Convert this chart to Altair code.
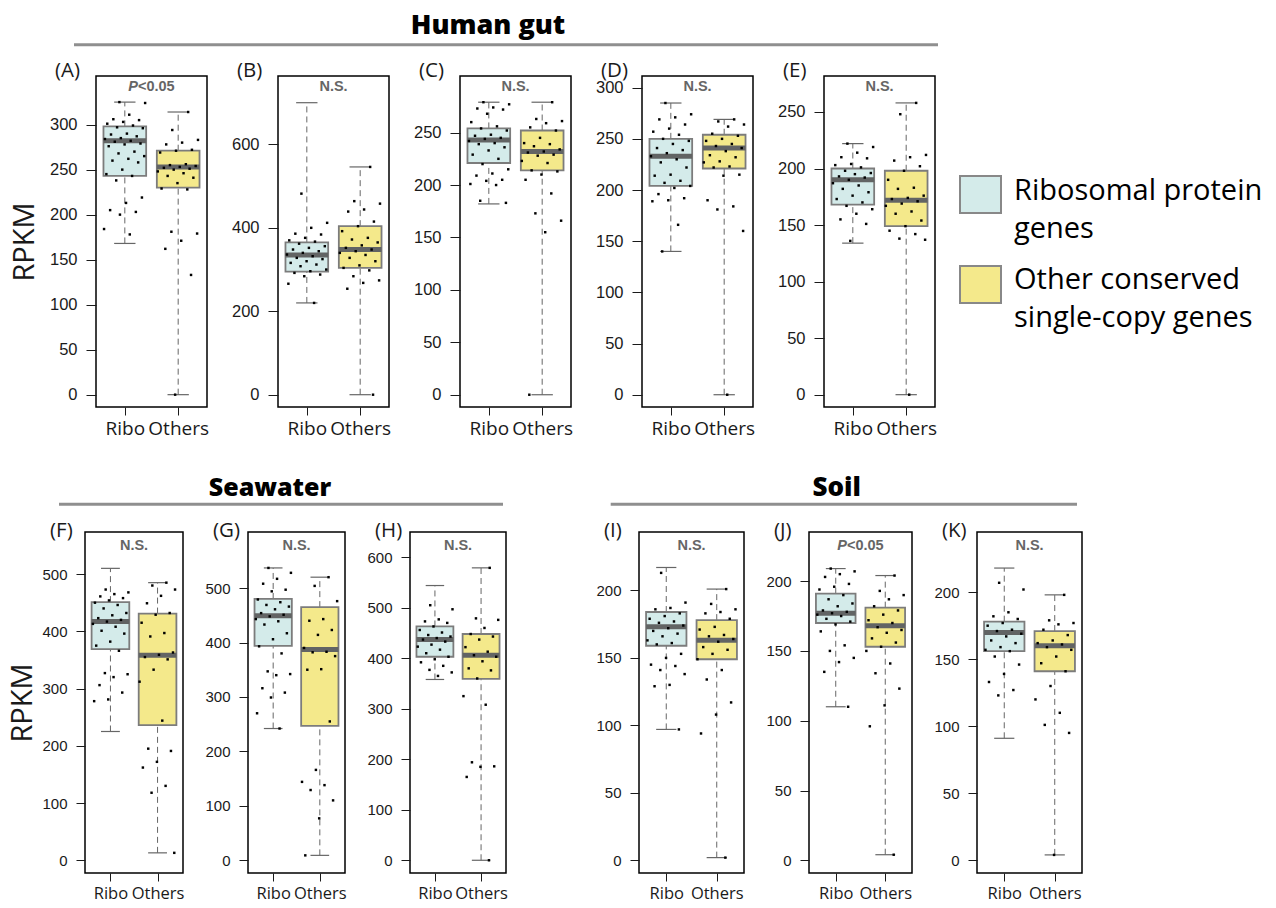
import altair as alt
import pandas as pd

# ---------------- data ----------------
# box stats: [lower whisker, Q1, median, Q3, upper whisker]
A_ribo = [325, 324, 311, 306, 305, 303, 301, 299, 297, 296, 290, 289, 287, 285, 284, 282, 281, 279, 278, 276,
          270, 268, 265, 262, 260, 258, 250, 245, 243, 238, 219, 213, 205, 203, 200, 184, 178]
A_others = [314, 294, 283, 280, 278, 272, 271, 269, 256, 255, 254, 253, 252, 251, 250, 248, 246, 243, 241, 235,
            229, 228, 181, 179, 171, 162, 133, 0]
A_ribo_box = [168, 243, 282, 298, 325]
A_others_box = [0, 230, 253, 271, 314]

B_ribo = [482, 412, 400, 386, 384, 376, 370, 367, 362, 356, 352, 348, 344, 340, 336, 332, 328, 325, 320, 316,
          312, 308, 300, 296, 292, 288, 284, 266, 220]
B_others = [546, 464, 458, 444, 439, 415, 404, 392, 376, 372, 365, 358, 352, 348, 344, 340, 335, 328, 320, 310,
            304, 298, 284, 274, 268, 254, 0]
B_ribo_box = [220, 295, 335, 365, 700]
B_others_box = [0, 304, 348, 404, 546]

C_ribo = [279, 277, 274, 273, 272, 268, 260, 256, 254, 252, 248, 247, 245, 244, 242, 240, 239, 236, 233, 229,
          225, 220, 215, 211, 209, 205, 204, 201, 200, 185, 183]
C_others = [279, 263, 261, 259, 255, 252, 245, 240, 239, 237, 234, 232, 231, 229, 228, 223, 221, 214, 213, 210,
            205, 192, 173, 166, 155, 0]
C_ribo_box = [182, 221, 243, 254, 279]
C_others_box = [0, 214, 232, 252, 279]

D_ribo = [285, 274, 271, 269, 264, 260, 257, 254, 250, 248, 245, 241, 239, 236, 233, 230, 227, 222, 215, 214,
          209, 207, 204, 202, 196, 192, 190, 189, 166, 140]
D_others = [269, 267, 264, 262, 255, 253, 250, 248, 245, 243, 241, 238, 234, 232, 228, 227, 223, 222, 215, 214,
            190, 184, 181, 160, 0]
D_ribo_box = [140, 204, 233, 250, 285]
D_others_box = [0, 221, 241, 254, 269]

E_ribo = [222, 219, 214, 210, 209, 204, 203, 201, 198, 196, 195, 193, 192, 190, 187, 185, 182, 179, 176, 173,
          170, 167, 164, 160, 155, 151, 136]
E_others = [258, 248, 212, 210, 207, 202, 198, 190, 183, 182, 176, 174, 173, 171, 169, 167, 162, 160, 154, 149,
            145, 142, 138, 137, 0]
E_ribo_box = [134, 168, 190, 200, 222]
E_others_box = [0, 149, 172, 198, 258]

F_ribo = [473, 468, 465, 461, 458, 454, 450, 446, 440, 432, 428, 423, 420, 417, 413, 408, 401, 396, 382, 375,
          366, 327, 325, 320, 306, 293, 281, 278]
F_others = [485, 480, 473, 462, 449, 432, 429, 415, 397, 391, 363, 359, 355, 351, 333, 312, 244, 195, 191, 172,
            162, 130, 118, 13]
F_ribo_box = [225, 369, 417, 451, 510]
F_others_box = [13, 236, 358, 431, 485]

G_ribo = [537, 528, 517, 508, 497, 494, 479, 474, 469, 466, 461, 454, 451, 448, 443, 439, 433, 417, 406, 393,
          380, 347, 342, 340, 316, 308, 299, 270, 242]
G_others = [520, 504, 476, 443, 440, 423, 414, 390, 383, 382, 375, 351, 350, 255, 166, 144, 138, 129, 110, 77, 9]
G_ribo_box = [242, 394, 449, 480, 537]
G_others_box = [9, 247, 387, 465, 520]

H_ribo = [505, 497, 477, 473, 470, 463, 456, 451, 446, 443, 440, 437, 433, 427, 423, 417, 410, 403, 398, 392,
          385, 377, 372, 365]
H_others = [579, 479, 476, 460, 448, 443, 437, 422, 413, 406, 403, 394, 380, 376, 360, 325, 308, 194, 186, 185,
            165, 0]
H_ribo_box = [358, 403, 437, 463, 544]
H_others_box = [0, 359, 406, 448, 579]

I_ribo = [213, 191, 187, 186, 183, 181, 179, 177, 176, 174, 172, 170, 168, 166, 163, 161, 160, 153, 150, 145,
          144, 141, 138, 130, 129, 97]
I_others = [201, 190, 186, 184, 183, 179, 173, 171, 167, 166, 164, 162, 158, 156, 153, 149, 141, 134, 117, 108,
            94, 2]
I_ribo_box = [97, 159, 173, 184, 217]
I_others_box = [2, 149, 163, 178, 201]

J_ribo = [209, 207, 205, 203, 198, 196, 194, 190, 187, 184, 182, 179, 178, 177, 176, 175, 173, 171, 169, 164,
          154, 150, 145, 142, 135, 110]
J_others = [204, 193, 190, 187, 182, 179, 176, 172, 170, 167, 165, 163, 159, 156, 153, 150, 141, 134, 123, 111,
            96, 4]
J_ribo_box = [110, 170, 177, 191, 209]
J_others_box = [4, 153, 168, 181, 204]

K_ribo = [207, 202, 185, 182, 180, 177, 175, 172, 171, 169, 167, 164, 162, 159, 157, 156, 152, 146, 139, 133,
          127, 123]
K_others = [198, 179, 177, 176, 172, 168, 164, 162, 161, 159, 157, 152, 147, 141, 130, 120, 110, 101, 95, 4]
K_ribo_box = [91, 156, 170, 178, 218]
K_others_box = [4, 141, 160, 171, 198]

panel_labels = ["(A)", "(B)", "(C)", "(D)", "(E)", "(F)", "(G)", "(H)", "(I)", "(J)", "(K)"]
annotations = ["P<0.05", "N.S.", "N.S.", "N.S.", "N.S.", "N.S.", "N.S.", "N.S.", "N.S.", "P<0.05", "N.S."]
y_ticks = [
    [0, 50, 100, 150, 200, 250, 300],
    [0, 200, 400, 600],
    [0, 50, 100, 150, 200, 250],
    [0, 50, 100, 150, 200, 250, 300],
    [0, 50, 100, 150, 200, 250],
    [0, 100, 200, 300, 400, 500],
    [0, 100, 200, 300, 400, 500],
    [0, 100, 200, 300, 400, 500, 600],
    [0, 50, 100, 150, 200],
    [0, 50, 100, 150, 200],
    [0, 50, 100, 150, 200],
]
y_domains = [
    [-13.7, 354], [-29.5, 764], [-11.7, 304], [-12.0, 311.4], [-10.9, 281.8],
    [-22.2, 573.5], [-23.4, 603], [-25.2, 650], [-9.4, 243.3], [-9.1, 235.2], [-9.5, 244.9],
]
groups = ["Ribo", "Others"]
group_titles = ["Human gut", "Seawater", "Soil"]
legend_labels = ["Ribosomal protein\ngenes", "Other conserved\nsingle-copy genes"]

ribo_sets = [A_ribo, B_ribo, C_ribo, D_ribo, E_ribo, F_ribo, G_ribo, H_ribo, I_ribo, J_ribo, K_ribo]
others_sets = [A_others, B_others, C_others, D_others, E_others, F_others, G_others, H_others, I_others,
               J_others, K_others]
ribo_boxes = [A_ribo_box, B_ribo_box, C_ribo_box, D_ribo_box, E_ribo_box, F_ribo_box, G_ribo_box, H_ribo_box,
              I_ribo_box, J_ribo_box, K_ribo_box]
others_boxes = [A_others_box, B_others_box, C_others_box, D_others_box, E_others_box, F_others_box,
                G_others_box, H_others_box, I_others_box, J_others_box, K_others_box]

# ---------------- styling ----------------
RIBO_FILL = "#D4EBEA"
OTH_FILL = "#F4E98B"
BOX_STROKE = "#7c7c7c"
MED_COLOR = "#626464"
WHISK = "#666666"
TXT_FONT = "Open Sans"
NUM_FONT = "Liberation Sans"
HALF = 0.4
X_DOMAIN = [0.46, 2.54]


def make_panel(idx, w, h, row):
    ylab = 16.5 if row == 1 else 15
    xlab = 19 if row == 1 else 16.5
    pts = []
    for cat, vals in ((1, ribo_sets[idx]), (2, others_sets[idx])):
        for i, v in enumerate(vals):
            j = ((i * 0.6180339887 + 0.37 * cat) % 1.0 - 0.5) * 0.78
            pts.append({"xpos": cat + j, "val": v})
    pts = pd.DataFrame(pts)
    rows = []
    for cat, g, b in ((1, groups[0], ribo_boxes[idx]), (2, groups[1], others_boxes[idx])):
        rows.append({"g": g, "c": cat, "lo": cat - HALF, "hi": cat + HALF, "clo": cat - HALF / 2,
                     "chi": cat + HALF / 2, "wmin": b[0], "q1": b[1], "med": b[2], "q3": b[3], "wmax": b[4]})
    box = pd.DataFrame(rows)

    first_col = idx in (0, 5)
    yaxis = alt.Axis(values=y_ticks[idx], tickSize=10 if row == 1 else 9, labelPadding=9,
                     labelFont=NUM_FONT, labelFontSize=ylab, labelColor="#1a1a1a",
                     tickColor="#1a1a1a", tickWidth=1, domain=False, grid=False,
                     title="RPKM" if first_col else "", titleFont=TXT_FONT, titleFontSize=29,
                     titleFontWeight="normal", titleColor="#1a1a1a",
                     titleX=(-72 if row == 1 else -63), titleY=h / 2, titleAngle=270,
                     titleBaseline="middle", titleAlign="center")
    xaxis = alt.Axis(values=[1, 2], labelExpr="datum.value == 1 ? 'Ribo' : 'Others'", tickSize=8,
                     labelPadding=4, labelFont=TXT_FONT, labelFontSize=xlab, labelColor="#1a1a1a",
                     tickColor="#1a1a1a", domain=False, grid=False, title="")
    yscale = alt.Scale(domain=y_domains[idx], nice=False, zero=False)
    xscale = alt.Scale(domain=X_DOMAIN, nice=False, zero=False)

    def X(f):
        return alt.X(f, type="quantitative", scale=xscale, axis=xaxis)

    def Y(f):
        return alt.Y(f, type="quantitative", scale=yscale, axis=yaxis)

    color = alt.Color("g:N", scale=alt.Scale(domain=groups, range=[RIBO_FILL, OTH_FILL]), legend=None)

    bb = alt.Chart(box)
    wh_up = bb.mark_rule(color=WHISK, strokeWidth=1, strokeDash=[6, 4]).encode(x=X("c"), y=Y("q3"), y2="wmax")
    wh_dn = bb.mark_rule(color=WHISK, strokeWidth=1, strokeDash=[6, 4]).encode(x=X("c"), y=Y("wmin"), y2="q1")
    cap_up = bb.mark_rule(color=WHISK, strokeWidth=1.2).encode(x=X("clo"), x2="chi", y=Y("wmax"))
    cap_dn = bb.mark_rule(color=WHISK, strokeWidth=1.2).encode(x=X("clo"), x2="chi", y=Y("wmin"))
    rect = bb.mark_rect(stroke=BOX_STROKE, strokeWidth=1.8).encode(x=X("lo"), x2="hi", y=Y("q1"), y2="q3",
                                                                    fill=color)
    med = bb.mark_rule(color=MED_COLOR, strokeWidth=5).encode(x=X("lo"), x2="hi", y=Y("med"))
    dots = alt.Chart(pts).mark_square(size=6, color="black", opacity=1).encode(x=X("xpos"), y=Y("val"))

    # significance annotation
    ann = annotations[idx]
    ay = 11 if row == 1 else 14
    fs = 14.5
    one = alt.Chart(pd.DataFrame({"t": [ann], "lab": [panel_labels[idx]]}))
    if ann.startswith("P"):
        total = (0.667 + 2.53) * fs
        left = w / 2 - total / 2
        ann_layers = [
            one.mark_text(font=NUM_FONT, fontSize=fs, fontWeight="bold", fontStyle="italic", color="#666666",
                          align="left", baseline="middle").encode(text=alt.value("P"), x=alt.value(left),
                                                                  y=alt.value(ay)),
            one.mark_text(font=NUM_FONT, fontSize=fs, fontWeight="bold", color="#666666", align="left",
                          baseline="middle").encode(text=alt.value(ann[1:]), x=alt.value(left + 0.667 * fs),
                                                    y=alt.value(ay)),
        ]
    else:
        ann_layers = [
            one.mark_text(font=NUM_FONT, fontSize=fs, fontWeight="bold", color="#666666", align="center",
                          baseline="middle").encode(text="t:N", x=alt.value(w / 2), y=alt.value(ay))
        ]
    # panel letter
    ann_layers.append(
        one.mark_text(font=TXT_FONT, fontSize=20.5, color="#1a1a1a", align="left", baseline="alphabetic").encode(
            text="lab:N", x=alt.value(-41 if row == 1 else -35), y=alt.value(1 if row == 1 else 5)))

    layers = [wh_up, wh_dn, cap_up, cap_dn, rect, med, dots] + ann_layers

    # group headers
    header = {0: (0, -22, 842, -31.3, 392, -42, 27), 5: (1, -26, 418, -27.7, 185, -36, 25),
              8: (2, -28.3, 438, -27.7, 197.7, -36, 26)}
    if idx in header:
        gi, x1, x2, ly, tx, ty, fsz = header[idx]
        hd = alt.Chart(pd.DataFrame({"t": [group_titles[gi]]}))
        layers.append(hd.mark_rule(color="#8f8f8f", strokeWidth=3).encode(
            x=alt.value(x1), x2=alt.value(x2), y=alt.value(ly)))
        layers.append(hd.mark_text(font=TXT_FONT, fontSize=fsz, fontWeight=800, color="black", align="center",
                                   baseline="alphabetic").encode(text="t:N", x=alt.value(tx), y=alt.value(ty)))

    # legend drawn beside panel E
    if idx == 4:
        for k, (lab, fill) in enumerate(zip(legend_labels, [RIBO_FILL, OTH_FILL])):
            lg = alt.Chart(pd.DataFrame({"t": [lab]}))
            y0 = 100 + 90 * k
            layers.append(lg.mark_rect(fill=fill, stroke="#888888", strokeWidth=2).encode(
                x=alt.value(136), x2=alt.value(177), y=alt.value(y0), y2=alt.value(y0 + 37)))
            layers.append(lg.mark_text(font=TXT_FONT, fontSize=29, color="black", align="left",
                                       baseline="alphabetic", lineBreak="\n", lineHeight=38).encode(
                text="t:N", x=alt.value(190), y=alt.value(124 + 89 * k)))

    return alt.layer(*layers).properties(width=w, height=h)


def spacer(w, h):
    return alt.Chart(pd.DataFrame({"v": [0]})).mark_point(opacity=0).encode(
        x=alt.value(0), y=alt.value(0)).properties(width=w, height=h, view=alt.ViewBackground(strokeOpacity=0))


H1, H2 = 331, 341
row1_panels = [spacer(6, H1)] + [make_panel(i, 111, H1, 1) for i in range(5)]
row2_panels = [spacer(1, H2), make_panel(5, 98, H2, 2), make_panel(6, 97, H2, 2), make_panel(7, 96, H2, 2),
               spacer(3, H2), make_panel(8, 105, H2, 2), make_panel(9, 103, H2, 2), make_panel(10, 105, H2, 2)]

row1 = alt.hconcat(*row1_panels, spacing=71, bounds="flush")
row2 = alt.hconcat(*row2_panels, spacing=65, bounds="flush")

chart = alt.vconcat(row1, row2, spacing=35).properties(
    padding={"left": 7, "top": 11, "right": 5, "bottom": 5},
    background="white",
).configure_view(stroke="black", strokeWidth=1.5)

chart.save("out.html", embed_options={"renderer": "svg", "actions": False})
